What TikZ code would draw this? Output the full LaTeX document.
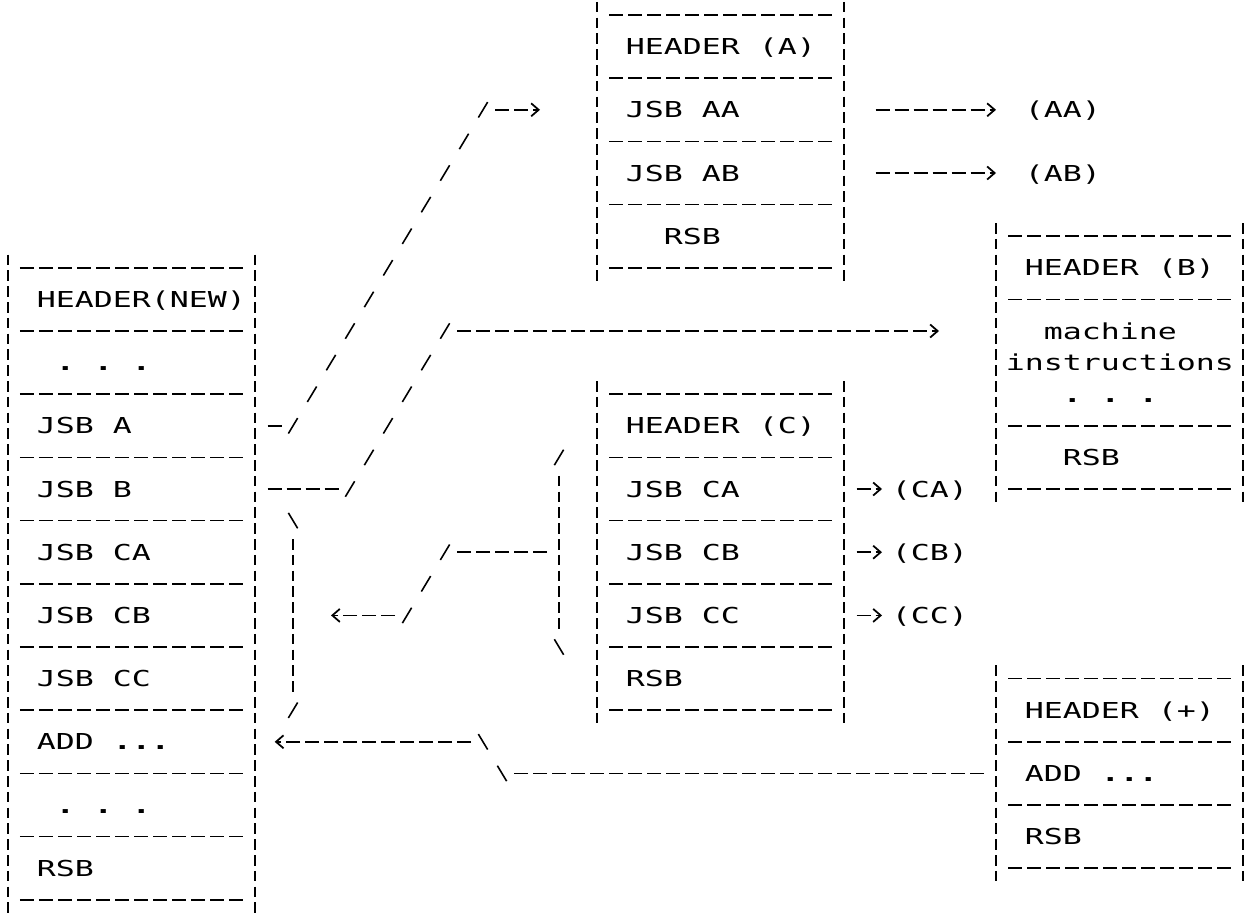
\documentclass[tikz,border=0pt]{standalone}
\usepackage{fontspec}
\usetikzlibrary{arrows.meta}
\newfontfamily\dotfont[FakeStretch=1.437]{DejaVu Sans Mono}
\setlength{\parindent}{0pt}
\newlength{\cw}
\setlength{\cw}{0.38cm}
\newcommand{\ind}[1]{\hspace*{#1\cw}}
\newcommand{\blank}{\hspace*{\cw}}
% frame of a listing box: column, top row, bottom row, separator rows
\newcommand{\frameat}[4]{%
  \draw[vbar] (#1,#2-0.5) -- (#1,#3+0.5);
  \draw[vbar] (#1+13,#2-0.5) -- (#1+13,#3+0.5);
  \foreach \s in {#4} {\draw[hdash] (#1+0.5,\s) -- (#1+12.5,\s);}
}

\begin{document}
\begin{tikzpicture}[
  x=0.38cm, y=-0.632cm,
  txt/.style={font=\dotfont\fontsize{12.5}{14}\selectfont, inner sep=0pt,
              text height=9.1pt, text depth=0pt, anchor=west},
  cell/.style={txt, text width=4.94cm, align=left},
  hdash/.style={line width=1pt, dash pattern=on 0.28cm off 0.10cm, dash phase=0.33cm},
  vbar/.style={line width=1pt, dash pattern=on 0.21cm off 0.106cm, dash phase=0.263cm},
  slash/.style={line width=0.9pt, dash pattern=on 0.36cm off 0.3774cm, dash phase=0.5487cm},
  chev/.style={-{Straight Barb[length=0.15cm,width=0.26cm]}}
]
  \useasboundingbox (-0.421,-0.4747) rectangle (65.316,28.513);

  %% new routine
  \node[cell] (new-hdr)   at (0,9)  {\ind{1.5}HEADER(NEW)};
  \node[cell] (new-dots)  at (0,11) {\ind{2.5}\textbf{.\blank.\blank.}};
  \node[cell] (new-jsbA)  at (0,13) {\ind{1.5}JSB\blank A};
  \node[cell] (new-jsbB)  at (0,15) {\ind{1.5}JSB\blank B};
  \node[cell] (new-jsbCA) at (0,17) {\ind{1.5}JSB\blank CA};
  \node[cell] (new-jsbCB) at (0,19) {\ind{1.5}JSB\blank CB};
  \node[cell] (new-jsbCC) at (0,21) {\ind{1.5}JSB\blank CC};
  \node[cell] (new-add)   at (0,23) {\ind{1.5}ADD\blank\textbf{...}};
  \node[cell] (new-more)  at (0,25) {\ind{2.5}\textbf{.\blank.\blank.}};
  \node[cell] (new-rsb)   at (0,27) {\ind{1.5}RSB};
  \frameat{0}{8}{28}{8,10,...,28}

  %% routine A
  \node[cell] (a-hdr) at (31,1) {\ind{1.5}HEADER\blank(A)};
  \node[cell] (a-aa)  at (31,3) {\ind{1.5}JSB\blank AA};
  \node[cell] (a-ab)  at (31,5) {\ind{1.5}JSB\blank AB};
  \node[cell] (a-rsb) at (31,7) {\ind{3.5}RSB};
  \frameat{31}{0}{8}{0,2,...,8}

  %% routine B
  \node[cell] (b-hdr)   at (52,8)  {\ind{1.5}HEADER\blank(B)};
  \node[cell] (b-mach)  at (52,10) {\ind{2.5}machine};
  \node[cell] (b-instr) at (52,11) {\ind{0.5}instructions};
  \node[cell] (b-dots)  at (52,12) {\ind{3.5}\textbf{.\blank.\blank.}};
  \node[cell] (b-rsb)   at (52,14) {\ind{3.5}RSB};
  \frameat{52}{7}{15}{7,9,13,15}

  %% routine C
  \node[cell] (c-hdr) at (31,13) {\ind{1.5}HEADER\blank(C)};
  \node[cell] (c-ca)  at (31,15) {\ind{1.5}JSB\blank CA};
  \node[cell] (c-cb)  at (31,17) {\ind{1.5}JSB\blank CB};
  \node[cell] (c-cc)  at (31,19) {\ind{1.5}JSB\blank CC};
  \node[cell] (c-rsb) at (31,21) {\ind{1.5}RSB};
  \frameat{31}{12}{22}{12,14,...,22}

  %% routine +
  \node[cell] (p-hdr) at (52,22) {\ind{1.5}HEADER\blank(+)};
  \node[cell] (p-add) at (52,24) {\ind{1.5}ADD\blank\textbf{...}};
  \node[cell] (p-rsb) at (52,26) {\ind{1.5}RSB};
  \frameat{52}{21}{27}{21,23,25,27}

  %% call targets
  \node[txt] (out-aa) at (53.5,3)  {(AA)};
  \node[txt] (out-ab) at (53.5,5)  {(AB)};
  \node[txt] (out-ca) at (46.5,15) {(CA)};
  \node[txt] (out-cb) at (46.5,17) {(CB)};
  \node[txt] (out-cc) at (46.5,19) {(CC)};

  \draw[hdash, chev, shorten <=1.5\cw, shorten >=1.5\cw] (a-aa.east) -- (out-aa.west);
  \draw[hdash, chev, shorten <=1.5\cw, shorten >=1.5\cw] (a-ab.east) -- (out-ab.west);
  \draw[hdash, chev, shorten <=0.5\cw, shorten >=0.5\cw] (c-ca.east) -- (out-ca.west);
  \draw[hdash, chev, shorten <=0.5\cw, shorten >=0.5\cw] (c-cb.east) -- (out-cb.west);
  \draw[hdash, chev, shorten <=0.5\cw, shorten >=0.5\cw] (c-cc.east) -- (out-cc.west);

  %% JSB A -> JSB AA
  \coordinate (jA-lo) at (14.5,13.5);
  \coordinate (jA-hi) at (25.5,2.5);
  \draw[hdash, shorten <=0.5\cw] (new-jsbA.east) -- (jA-lo |- new-jsbA.east);
  \draw[slash] (jA-lo) -- (jA-hi);
  \draw[hdash, chev, shorten >=3\cw] (jA-hi |- a-aa.west) -- (a-aa.west);

  %% JSB B -> machine instructions
  \coordinate (jB-lo) at (17.5,15.5);
  \coordinate (jB-hi) at (23.5,9.5);
  \draw[hdash, shorten <=0.5\cw] (new-jsbB.east) -- (jB-lo |- new-jsbB.east);
  \draw[slash] (jB-lo) -- (jB-hi);
  \draw[hdash, chev, shorten >=3\cw] (jB-hi |- b-mach.west) -- (b-mach.west);

  %% brackets round the JSB C.. calls
  \coordinate (brC) at (29,17);
  \coordinate (brL) at (15,19);
  \draw[slash] (28.5,14.5) -- (29.5,13.5);
  \draw[vbar] (29,14.5) -- (29,19.5);
  \draw[slash] (28.5,19.5) -- (29.5,20.5);
  \draw[slash] (14.5,15.5) -- (15.5,16.5);
  \draw[vbar] (15,16.5) -- (15,21.5);
  \draw[slash] (15.5,21.5) -- (14.5,22.5);

  \coordinate (kC-hi) at (23.5,16.5);
  \coordinate (kC-lo) at (20.5,19.5);
  \draw[hdash, shorten <=0.5\cw] (brC) -- (kC-hi |- brC);
  \draw[slash] (kC-hi) -- (kC-lo);
  \draw[hdash, chev, shorten >=2\cw] (kC-lo |- brL) -- (brL);

  %% ADD ... of routine + -> ADD ... of new routine
  \coordinate (kD-lo) at (26.5,24.5);
  \coordinate (kD-hi) at (24.5,22.5);
  \draw[hdash, shorten <=0.5\cw] (p-add.west) -- (kD-lo |- p-add.west);
  \draw[slash] (kD-lo) -- (kD-hi);
  \draw[hdash, chev, shorten >=1\cw] (kD-hi |- new-add.east) -- (new-add.east);
\end{tikzpicture}
\end{document}
